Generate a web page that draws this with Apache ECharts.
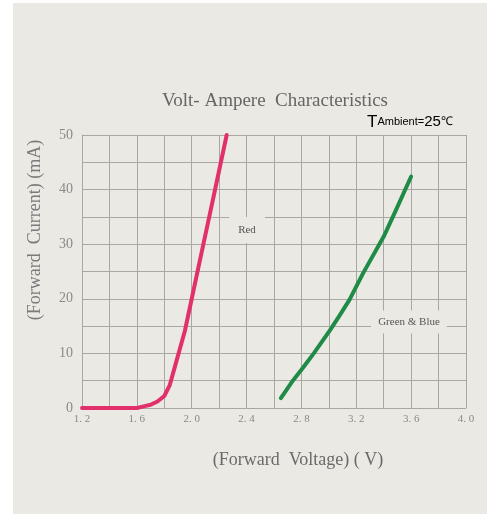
<!DOCTYPE html>
<html>
<head>
<meta charset="utf-8">
<script src="https://cdn.jsdelivr.net/npm/echarts@6/dist/echarts.min.js"></script>
<style>
html,body{margin:0;padding:0;background:#ffffff;}
#chart{width:487px;height:514px;}
</style>
</head>
<body>
<div id="chart"></div>
<script>
// Data
var redVoltage   = [1.20, 1.40, 1.60, 1.65, 1.70, 1.75, 1.80, 1.84, 1.88, 1.95, 2.05, 2.15, 2.255];
var redCurrent   = [0.0,  0.0,  0.0,  0.3,  0.6,  1.2,  2.2,  4.2,  7.8,  14.1, 25.9, 37.6, 50.0];
var greenVoltage = [2.65, 2.74, 2.80, 2.89, 3.01, 3.08, 3.15, 3.25, 3.40, 3.49, 3.60];
var greenCurrent = [1.8,  5.1,  7.0,  10.0, 14.3, 17.0, 19.8, 24.7, 31.4, 36.3, 42.4];
var titleText = 'Volt- Ampere  Characteristics';
var xName = '(Forward  Voltage) ( V)';
var yName = '(Forward  Current) (mA)';
var redLabel = 'Red';
var greenLabel = 'Green & Blue';

function pairs(xs, ys){ return xs.map(function(x,i){ return [x, ys[i]]; }); }

var bg = '#ebe9e4';
var gridColor = '#a9a7a3';
var serif = '"Liberation Serif", "DejaVu Serif", serif';
var sans = '"Liberation Sans", Arial, sans-serif';

var chart = echarts.init(document.getElementById('chart'));
chart.setOption({
  backgroundColor: '#ffffff',
  animation: false,
  grid: {left: 82, right: 21, top: 135, bottom: 106},
  xAxis: {
    type: 'value', min: 1.2, max: 4.0, interval: 0.2,
    axisLine: {show: true, lineStyle: {color: gridColor, width: 1}},
    axisTick: {show: false},
    splitLine: {show: true, lineStyle: {color: gridColor, width: 1}},
    axisLabel: {
      margin: 6, color: '#8a8a8a', fontFamily: serif, fontSize: 11,
      formatter: function(v){
        var k = Math.round(v*10);
        if (k % 4 !== 0) return '';
        return (k/10).toFixed(1).replace('.', '. ');
      }
    }
  },
  yAxis: {
    type: 'value', min: 0, max: 50, interval: 5,
    axisLine: {show: true, lineStyle: {color: gridColor, width: 1}},
    axisTick: {show: false},
    splitLine: {show: true, lineStyle: {color: gridColor, width: 1}},
    axisLabel: {
      margin: 9, color: '#8a8a8a', fontFamily: serif, fontSize: 14,
      formatter: function(v){ return (Math.round(v) % 10 === 0) ? String(Math.round(v)) : ''; }
    }
  },
  graphic: [
    {type: 'rect', z: -100, silent: true, shape: {x: 13, y: 3, width: 474, height: 511}, style: {fill: bg}},
    {type: 'text', z: 10, style: {
      text: titleText, x: 275, y: 101, textAlign: 'center', textVerticalAlign: 'middle',
      font: '19px ' + serif, fill: '#666666'}},
    {type: 'text', z: 10, style: {
      text: '{t|T}{a|Ambient=}{n|25}{c|℃}', x: 367, y: 122, textVerticalAlign: 'middle',
      rich: {
        t: {fontSize: 17, fontFamily: sans, color: '#555'},
        a: {fontSize: 11, fontFamily: sans, color: '#555'},
        n: {fontSize: 15, fontFamily: sans, color: '#555'},
        c: {fontSize: 12, fontFamily: sans, color: '#777'}
      }}},
    {type: 'text', z: 10, rotation: Math.PI/2, x: 35, y: 230, style: {
      text: yName, x: 0, y: 0, textAlign: 'center', textVerticalAlign: 'middle',
      font: '18px ' + serif, fill: '#7a7a7a'}},
    {type: 'text', z: 10, style: {
      text: xName, x: 298, y: 460, textAlign: 'center', textVerticalAlign: 'middle',
      font: '18px ' + serif, fill: '#6a6a6a'}},
    {type: 'text', z: 10, style: {
      text: redLabel, x: 247, y: 230, textAlign: 'center', textVerticalAlign: 'middle',
      font: '11px ' + serif, fill: '#555', backgroundColor: bg, padding: [7, 9, 8, 9]}},
    {type: 'text', z: 10, style: {
      text: greenLabel, x: 409, y: 322, textAlign: 'center', textVerticalAlign: 'middle',
      font: '11px ' + serif, fill: '#555', backgroundColor: bg, padding: [7, 7, 5, 7]}}
  ],
  series: [
    {type: 'line', name: 'Red', data: pairs(redVoltage, redCurrent), showSymbol: false, clip: false,
     smooth: false, lineStyle: {color: '#e2306b', width: 4, join: 'round', cap: 'round'}, z: 5},
    {type: 'line', name: 'Green & Blue', data: pairs(greenVoltage, greenCurrent), showSymbol: false, clip: false,
     smooth: false, lineStyle: {color: '#1f8b47', width: 4, join: 'round', cap: 'round'}, z: 5}
  ]
});
</script>
</body>
</html>
